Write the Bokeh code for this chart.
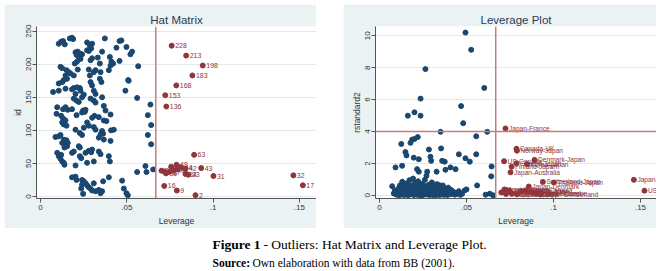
from bokeh.plotting import figure
from bokeh.models import ColumnDataSource, FixedTicker, Span, Spacer, Range1d, CustomJSTickFormatter
from bokeh.layouts import row, column
from bokeh.embed import file_html
from bokeh.resources import INLINE
from bokeh.core.properties import value

# ---------------- data ----------------
hat_lev = [0.0106,0.0120,0.0131,0.0141,0.0170,0.0183,0.0189,0.0270,0.0286,0.0299,0.0294,0.0270,0.0280,0.0373,
           0.0458,0.0469,0.0498,0.0521,0.0531,0.0440,0.0357,0.0203,0.0216,0.0228,0.0241,0.0209,0.0222,0.0232,
           0.0212,0.0199,0.0290,0.0299,0.0332,0.0344,0.0402,0.0411,0.0421,0.0406,0.0396,0.0458,0.0566,0.0116,
           0.0126,0.0151,0.0164,0.0145,0.0154,0.0135,0.0126,0.0174,0.0193,0.0106,0.0216,0.0280,0.0309,0.0319,
           0.0348,0.0286,0.0290,0.0299,0.0344,0.0353,0.0508,0.0073,0.0106,0.0145,0.0183,0.0193,0.0212,0.0228,
           0.0232,0.0203,0.0193,0.0209,0.0222,0.0241,0.0251,0.0309,0.0319,0.0290,0.0309,0.0319,0.0357,0.0492,
           0.0560,0.0637,0.0097,0.0131,0.0145,0.0158,0.0183,0.0247,0.0261,0.0367,0.0377,0.0511,
           0.0093,0.0120,0.0131,0.0145,0.0126,0.0135,0.0151,0.0209,0.0241,0.0257,0.0299,0.0313,0.0338,0.0367,
           0.0382,0.0406,0.0622,0.0270,0.0280,0.0251,0.0228,0.0241,0.0203,0.0309,0.0319,0.0357,0.0348,0.0338,
           0.0367,0.0363,0.0409,0.0425,0.0406,0.0087,0.0106,0.0116,0.0135,0.0126,0.0145,0.0154,0.0139,0.0151,
           0.0158,0.0222,0.0228,0.0097,0.0106,0.0120,0.0116,0.0126,0.0135,0.0139,0.0183,0.0193,0.0228,0.0236,
           0.0261,0.0280,0.0294,0.0299,0.0338,0.0348,0.0270,0.0309,0.0396,0.0402,0.0203,0.0641,0.0622,0.0641,
           0.0608,0.0560,0.0614,0.0653,0.0183,0.0203,0.0209,0.0241,0.0251,0.0261,0.0241,0.0270,0.0280,0.0290,
           0.0299,0.0309,0.0319,0.0338,0.0348,0.0357,0.0363,0.0396,0.0236,0.0247,0.0473,0.0483,0.0498,0.0506]
hat_id = [231,234,235,230,239,240,238,233,228,231,224,221,220,239,
          235,236,226,215,219,225,219,218,219,216,215,214,211,208,
          204,201,206,209,210,201,211,204,201,198,191,205,197,196,
          194,191,188,183,178,176,173,186,183,171,192,192,188,191,
          188,183,173,168,178,173,176,158,160,163,162,164,165,164,
          160,155,148,145,143,150,154,160,155,148,145,142,150,160,
          149,139,135,132,135,131,132,130,131,137,130,175,
          125,122,118,115,112,109,107,123,127,128,119,122,120,115,
          114,124,123,112,107,104,96,93,101,105,101,99,94,89,
          86,95,100,101,84,90,91,93,86,81,79,76,74,85,
          81,76,74,66,61,63,57,53,51,48,66,68,61,58,
          66,69,67,71,68,64,51,53,61,53,47,108,93,79,
          46,37,37,41,29,30,25,25,23,20,18,17,14,12,
          9,20,8,10,5,8,23,29,12,4,24,12,5,2]

hat_out_lev = [0.0760,0.0844,0.0940,0.0880,0.0787,0.0723,0.0729,0.0890,0.0788,0.0931,0.0840,0.1002,0.1465,
               0.1520,0.0717,0.0790,0.0898,0.0701,0.0718,0.0727,0.0757,0.0792,0.0815,0.0840,0.0856,0.0745,0.0772]
hat_out_id = [228,213,198,183,168,153,136,63,48,43,42,31,32,17,16,9,2,39,38,35,45,41,44,34,33,37,40]

lev_lev = [0.0494,0.0527,0.0264,0.0602,0.0236,0.0469,0.0201,0.0163,0.0236,0.0481,0.0351,0.0619,0.0556,0.0125,
           0.0178,0.0188,0.0201,0.0220,0.0354,0.0284,0.0556,0.0456,0.0494,0.0519,0.0149,0.0155,0.0197,0.0226,
           0.0293,0.0297,0.0360,0.0375,0.0408,0.0437,0.0328,0.0379,0.0644,0.0642,0.0561,0.0092,0.0130,0.0216,
           0.0226,0.0274,0.0270,0.0490,0.0500,0.0610,0.0634,0.0653,0.0073,
           0.0095,0.0102,0.0108,0.0112,0.0118,0.0121,0.0126,0.0131,0.0134,0.0139,0.0142,0.0146,0.0150,0.0153,
           0.0157,0.0161,0.0165,0.0168,0.0172,0.0175,0.0179,0.0182,0.0186,0.0190,0.0193,0.0197,0.0200,0.0204,
           0.0207,0.0211,0.0214,0.0218,0.0222,0.0225,0.0229,0.0232,0.0236,0.0240,0.0243,0.0247,0.0250,0.0254,
           0.0258,0.0261,0.0265,0.0268,0.0272,0.0276,0.0279,0.0283,0.0286,0.0290,0.0294,0.0297,0.0301,0.0305,
           0.0308,0.0312,0.0316,0.0319,0.0323,0.0327,0.0330,0.0334,0.0338,0.0341,0.0345,0.0349,0.0352,0.0356,
           0.0360,0.0364,0.0368,0.0372,0.0376,0.0380,0.0385,0.0390,0.0395,0.0400,0.0406,0.0412,0.0418,0.0425,
           0.0432,0.0440,0.0448,0.0456,0.0465,0.0475,0.0110,0.0140,0.0170,0.0195,0.0215,0.0245,0.0262,0.0288,
           0.0310,0.0335,0.0355,0.0375,0.0398,0.0183,0.0128,0.0220,0.0277,0.0303,0.0342,0.0158,0.0088,0.0082]
lev_r = [10.20,9.12,7.91,6.73,6.06,5.59,5.20,4.99,4.99,4.52,3.98,3.98,3.70,3.22,
         3.29,3.49,3.53,3.65,2.94,2.87,2.57,2.57,2.32,2.11,2.71,2.50,2.36,2.26,
         2.42,2.16,2.16,2.11,1.75,1.64,1.48,1.60,1.81,1.19,0.62,1.75,1.85,1.64,
         1.48,1.48,1.23,0.31,0.37,0.04,0.10,0.00,0.57,
         0.05,0.22,0.41,0.12,0.63,0.03,0.30,0.85,0.15,0.48,0.02,0.27,0.70,0.09,
         0.38,0.55,0.01,0.20,0.95,0.33,0.06,0.62,0.14,0.44,1.05,0.02,0.25,0.78,
         0.11,0.52,0.04,0.35,0.88,0.18,0.60,0.01,0.29,0.46,0.08,0.72,0.16,0.03,
         0.40,0.97,0.22,0.57,0.05,0.34,0.12,0.66,0.02,0.27,0.49,0.09,0.81,0.19,
         0.04,0.38,0.58,0.13,0.01,0.31,0.70,0.07,0.45,0.21,0.02,0.53,0.15,0.36,
         0.05,0.62,0.24,0.03,0.41,0.11,0.30,0.02,0.48,0.17,0.06,0.33,0.12,0.22,
         0.04,0.15,0.08,0.26,0.03,0.10,0.00,0.07,0.11,0.17,0.23,0.01,0.09,0.14,
         0.26,0.19,0.09,0.17,0.35,0.28,0.52,0.05,0.41,0.03,0.64,0.75,0.30,0.12]

lev_out_lev = [0.0724,0.0787,0.0790,0.0716,0.0891,0.0787,0.0849,0.0759,0.0753,0.0939,0.1002,0.1462,0.1523,
               0.0858,0.0718,0.0730,0.0840,0.0700,0.0790,0.0870,0.0898,0.0925,0.0929,0.0760,0.0815,0.0727,0.0745]
lev_out_r = [4.19,2.92,2.80,2.14,2.22,2.01,1.95,1.79,1.44,0.84,0.80,0.97,0.29,
             0.55,0.37,0.33,0.30,0.18,0.06,0.22,0.10,0.05,0.14,0.12,0.26,0.08,0.30]
lev_out_lab = ["Japan-France","Canada-UK","Norway-Japan","US-Canada","Denmark-Japan","Greece-Japan",
               "Korea-Japan","Finland-Japan","Japan-Australia","Switzerland-Japan","Thailand-Japan",
               "Japan-US","US-Japan","Japan-Denmark","Austria-Japan","Japan-Austria","Japan-Canada",
               "Brazil-Japan","Japan-Korea","Japan-Italy","Japan-Finland","Japan-Switzerland",
               "Japan-Greece","Japan-Norway","Japan-Sweden","Sweden-Japan","Japan-Brazil"]

x_ticks = [0, 0.05, 0.1, 0.15]
hat_yticks = [0, 50, 100, 150, 200, 250]
lev_yticks = [0, 2, 4, 6, 8, 10]
lev_cut = 0.0668
r_cut = 4

# ---------------- style ----------------
NAVY = "#1a476f"
MAROON = "#90353b"
BG = "#eaf2f3"
REF = "#c97b7b"
FONT = "Liberation Sans"

fmt = CustomJSTickFormatter(code="""
if (tick == 0) return '0';
return tick.toFixed(2).replace(/0+$/, '').replace(/^0/, '');
""")


def make_panel(title, width, xend, xs, ys, oxs, oys, olabs, yticks, ylabel, yrange, lab_size):
    p = figure(width=width, height=224, output_backend="svg", toolbar_location=None,
               x_range=Range1d(-0.0023, xend), y_range=Range1d(*yrange),
               min_border_left=32, min_border_right=0,
               min_border_top=22, min_border_bottom=28)
    p.background_fill_color = "white"
    p.border_fill_color = BG
    p.outline_line_color = None
    p.title.text = title
    p.title.align = "center"
    p.title.text_font = FONT
    p.title.text_font_size = "11.5px"
    p.title.text_font_style = "normal"
    p.title.text_color = "#2d3a57"
    p.title.standoff = 2
    p.title.offset = -4

    p.xaxis.ticker = FixedTicker(ticks=x_ticks)
    p.xaxis.formatter = fmt
    p.yaxis.ticker = FixedTicker(ticks=yticks)
    p.yaxis.major_label_orientation = "vertical"
    for ax in (p.xaxis, p.yaxis):
        ax.axis_line_color = "#555555"
        ax.major_tick_line_color = "#555555"
        ax.major_tick_out = 4
        ax.major_tick_in = 0
        ax.minor_tick_line_color = None
        ax.major_label_text_font = FONT
        ax.major_label_text_font_size = "8px"
        ax.major_label_text_color = "#333333"
        ax.axis_label_text_font = FONT
        ax.axis_label_text_font_size = "8.5px"
        ax.axis_label_text_font_style = "normal"
        ax.axis_label_text_color = "#333333"
    p.xaxis.major_label_standoff = 2
    p.xaxis.axis_label_standoff = 3
    p.yaxis.major_label_standoff = 1
    p.yaxis.axis_label_standoff = 1
    p.xaxis.axis_label = "Leverage"
    p.yaxis.axis_label = ylabel
    p.xgrid.visible = False
    p.ygrid.ticker = FixedTicker(ticks=yticks)
    p.ygrid.grid_line_color = "#e2e9eb"
    p.ygrid.grid_line_width = 1

    p.add_layout(Span(location=lev_cut, dimension="height", line_color=REF, line_width=1.5))

    p.scatter(xs, ys, size=5, color=NAVY, line_color=NAVY)
    src = ColumnDataSource(dict(x=oxs, y=oys, t=olabs))
    p.scatter("x", "y", source=src, size=5, color=MAROON, line_color=MAROON)
    p.text("x", "y", text="t", source=src, x_offset=3.5, text_baseline="middle",
           text_font=value(FONT), text_font_size=lab_size, text_color=MAROON)
    return p


p1 = make_panel("Hat Matrix", 312, 0.1599, hat_lev, hat_id, hat_out_lev, hat_out_id,
                [str(i) for i in hat_out_id], hat_yticks, "id", (-3, 257), "7px")
p2 = make_panel("Leverage Plot", 313, 0.1592, lev_lev, lev_r, lev_out_lev, lev_out_r,
                lev_out_lab, lev_yticks, "rstandard2", (-0.2, 10.58), "6.6px")
p2.add_layout(Span(location=r_cut, dimension="width", line_color=REF, line_width=1.5))

# caption
SERIF = "Liberation Serif"
cap = figure(width=660, height=43, output_backend="svg", toolbar_location=None,
             x_range=Range1d(0, 660), y_range=Range1d(43, 0),
             x_axis_type=None, y_axis_type=None, min_border=0)
cap.outline_line_color = None
cap.xgrid.visible = False
cap.ygrid.visible = False
cap.text(x=[212], y=[16], text=["Figure 1"], text_font=value(SERIF), text_font_size="13.5px",
         text_font_style="bold", text_baseline="middle", text_color="black")
cap.text(x=[263], y=[16], text=["- Outliers: Hat Matrix and Leverage Plot."],
         text_font=value(SERIF), text_font_size="13.5px",
         text_baseline="middle", text_color="black")
cap.text(x=[212], y=[34], text=["Source:"], text_font=value(SERIF), text_font_size="11.5px",
         text_font_style="bold", text_baseline="middle", text_color="black")
cap.text(x=[252], y=[34], text=["Own elaboration with data from BB (2001)."],
         text_font=value(SERIF), text_font_size="11.5px",
         text_baseline="middle", text_color="black")

top = row(Spacer(width=4, height=224), p1, Spacer(width=27, height=224), p2, Spacer(width=4, height=224))
layout = column(Spacer(width=660, height=4), top, cap)

open("out.html", "w").write(file_html(layout, INLINE))
